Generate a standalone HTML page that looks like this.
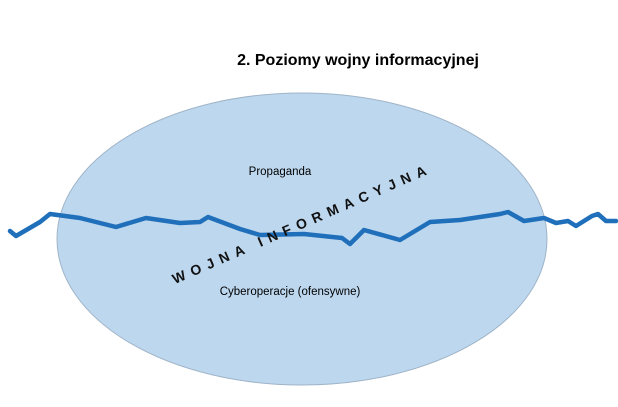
<!DOCTYPE html>
<html><head><meta charset="utf-8"><style>
html,body{margin:0;padding:0;background:#fff;width:618px;height:407px;overflow:hidden}
</style></head><body>
<svg width="618" height="407" viewBox="0 0 618 407" xmlns="http://www.w3.org/2000/svg">
<rect width="618" height="407" fill="#fff"/>
<ellipse cx="302" cy="239" rx="245" ry="146" fill="#bdd7ee" stroke="#9fb4c8" stroke-width="1"/>
<text x="358" y="65" text-anchor="middle" font-family="Liberation Sans, sans-serif" font-weight="bold" font-size="16" fill="#000">2. Poziomy wojny informacyjnej</text>
<text x="280" y="175" text-anchor="middle" font-family="Liberation Sans, sans-serif" font-size="11.5" fill="#000">Propaganda</text>
<text x="290" y="295" text-anchor="middle" font-family="Liberation Sans, sans-serif" font-size="11.5" fill="#000">Cyberoperacje (ofensywne)</text>
<polyline fill="none" stroke="#1f6fba" stroke-width="4.5" stroke-linejoin="round" stroke-linecap="round"
 points="10,231 16,236 40,222 50,214 80,218 116,227 146,218 180,223 200,222 208,217 240,229 260,235 304,234 342,238 350,244 364,230 400,240 430,222 460,220 500,214 508,212 524,221 544,218 556,223 568,221 576,226 592,216 598,214 606,221 616,221"/>
<text transform="translate(304,228) rotate(-23.5)" text-anchor="middle" font-family="Liberation Sans, sans-serif" font-weight="bold" font-size="14" letter-spacing="6.3" fill="#111">WOJNA INFORMACYJNA</text>
</svg>
</body></html>
